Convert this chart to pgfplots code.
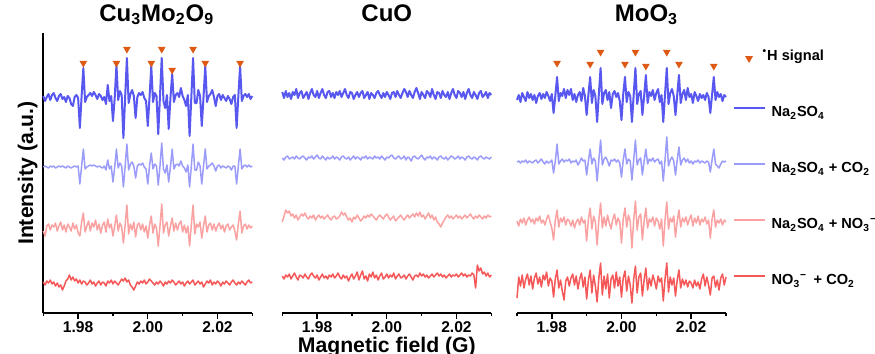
\documentclass[border=0pt]{standalone}
\usepackage{fontspec}
\setmainfont{Liberation Sans}
\usepackage{pgfplots}
\usepackage{pgfplotstable}
\pgfplotsset{compat=1.18}
\definecolor{cA}{RGB}{88,88,240}
\definecolor{cB}{RGB}{155,155,250}
\definecolor{cC}{RGB}{250,162,162}
\definecolor{cD}{RGB}{245,88,88}
\definecolor{tri}{RGB}{222,90,20}

% Cu3Mo2O9 panel: offsets from each trace's baseline
\pgfplotstableread{
x a b c d
1.9700 2 0 -3 1
1.9705 -3 1 -8 -2
1.9710 1 0 2 2
1.9715 4 -1 4 0
1.9720 -2 1 -2 3
1.9725 3 0 3 -1
1.9730 5 1 1 1
1.9735 0 -1 5 -3
1.9740 -3 0 -3 0
1.9745 2 1 2 -4
1.9750 4 0 6 -2
1.9755 -1 1 -2 -7
1.9760 1 0 3 -3
1.9765 -4 -1 -4 2
1.9770 2 1 4 4
1.9775 0 0 1 8
1.9780 -6 -1 -3 3
1.9785 -8 0 5 6
1.9790 1 1 -1 2
1.9795 3 0 3 4
1.9800 0 1 -5 0
1.9805 -30 -17 -8 3
1.9810 2 1 6 -1
1.9815 30 18 15 2
1.9820 -4 -2 -4 1
1.9825 1 0 2 -2
1.9830 3 1 7 0
1.9835 5 2 -3 3
1.9840 2 1 5 -1
1.9845 6 2 1 1
1.9850 3 1 8 -3
1.9855 -1 0 -2 0
1.9860 4 1 4 2
1.9865 2 0 -5 -2
1.9870 -2 -1 3 1
1.9875 1 1 6 0
1.9880 -6 -3 -4 -3
1.9885 13 7 9 2
1.9890 -3 -2 0 0
1.9895 2 1 4 3
1.9900 -23 -15 -8 -1
1.9905 0 0 2 2
1.9910 33 18 13 0
1.9915 -2 -1 -3 -2
1.9920 7 4 5 1
1.9925 3 1 1 4
1.9930 -40 -20 -15 2
1.9935 1 1 3 5
1.9940 40 23 23 1
1.9945 -5 -3 -6 3
1.9950 4 3 4 -2
1.9955 8 5 -2 -4
1.9960 2 1 6 -7
1.9965 -20 -11 -9 -3
1.9970 1 1 3 1
1.9975 5 3 5 -1
1.9980 3 2 -2 2
1.9985 6 4 4 0
1.9990 0 0 -4 3
1.9995 -3 -2 2 -1
2.0000 -28 -17 -10 1
2.0005 1 1 3 4
2.0010 32 14 12 2
2.0015 -4 -2 -5 0
2.0020 5 3 4 -2
2.0025 2 1 0 1
2.0030 -36 -18 -18 -1
2.0035 2 1 2 2
2.0040 40 24 24 0
2.0045 -3 -2 -5 -3
2.0050 -10 -6 3 1
2.0055 3 2 6 -1
2.0060 -31 -15 -8 2
2.0065 0 0 2 0
2.0070 24 18 10 3
2.0075 -4 -2 -3 1
2.0080 3 2 5 -2
2.0085 5 3 -2 0
2.0090 1 1 4 2
2.0095 10 6 7 -1
2.0100 2 1 -4 1
2.0105 -2 -1 3 -3
2.0110 -8 -5 -5 0
2.0115 3 2 2 2
2.0120 -38 -20 -18 -1
2.0125 1 1 3 1
2.0130 40 23 23 3
2.0135 -5 -3 -6 -2
2.0140 -5 -3 4 0
2.0145 8 5 1 2
2.0150 2 1 6 -1
2.0155 -28 -17 -10 1
2.0160 1 1 2 -4
2.0165 32 18 12 -1
2.0170 -4 -2 -4 2
2.0175 2 1 3 0
2.0180 4 2 5 3
2.0185 8 4 -2 -2
2.0190 1 1 4 1
2.0195 -8 -4 -3 -1
2.0200 2 1 2 2
2.0205 4 2 5 0
2.0210 -2 -1 -1 -3
2.0215 3 1 3 1
2.0220 0 0 -4 -1
2.0225 -3 -1 2 2
2.0230 2 1 4 0
2.0235 -1 0 -2 -2
2.0240 -6 -3 1 1
2.0245 1 1 3 3
2.0250 3 1 -3 0
2.0255 -30 -17 -12 -2
2.0260 2 1 4 1
2.0265 32 18 17 -1
2.0270 -3 -2 -5 2
2.0275 2 1 2 0
2.0280 4 2 4 -2
2.0285 1 0 -1 1
2.0290 4 2 3 3
2.0295 -1 0 0 0
2.0300 2 1 2 1
}\pone

% CuO panel
\pgfplotstableread{
x a b c d
1.9700 3 0 -4 1
1.9705 -3 -2 2 -2
1.9710 4 1 8 2
1.9715 -2 2 5 0
1.9720 2 -1 7 3
1.9725 -4 0 2 -2
1.9730 3 1 4 1
1.9735 0 -1 0 4
1.9740 6 2 3 0
1.9745 -3 0 -2 -3
1.9750 2 -1 1 2
1.9755 4 1 4 1
1.9760 -3 2 2 -1
1.9765 0 0 5 3
1.9770 3 -2 1 0
1.9775 -4 1 -1 -2
1.9780 2 0 2 2
1.9785 6 2 0 4
1.9790 0 -1 3 1
1.9795 -2 1 -2 -1
1.9800 4 3 1 2
1.9805 -3 0 3 -3
1.9810 2 -1 0 0
1.9815 6 2 2 3
1.9820 0 0 -1 -1
1.9825 -3 -2 1 1
1.9830 3 1 3 -2
1.9835 4 -1 0 2
1.9840 -2 0 -2 0
1.9845 2 2 1 3
1.9850 -3 -1 2 -1
1.9855 3 1 -1 1
1.9860 0 0 0 4
1.9865 4 -2 2 0
1.9870 -2 1 6 -2
1.9875 2 2 3 2
1.9880 6 0 5 -1
1.9885 0 -1 1 1
1.9890 -3 1 -2 -4
1.9895 3 -2 0 0
1.9900 2 0 -4 3
1.9905 -4 2 1 -2
1.9910 0 -1 -1 1
1.9915 3 1 3 5
1.9920 -2 0 0 -3
1.9925 2 -2 -3 2
1.9930 4 1 -1 6
1.9935 -3 0 2 -2
1.9940 0 2 0 1
1.9945 3 -1 3 -4
1.9950 -4 1 1 3
1.9955 2 0 4 0
1.9960 0 -1 2 5
1.9965 -3 2 0 -1
1.9970 2 0 -2 2
1.9975 4 1 1 -3
1.9980 0 -1 3 1
1.9985 -3 2 1 4
1.9990 2 0 -1 -2
1.9995 -2 -2 2 0
2.0000 3 1 4 3
2.0005 0 0 1 -1
2.0010 -4 2 -2 2
2.0015 2 3 0 0
2.0020 3 0 2 4
2.0025 -2 -1 -3 -2
2.0030 4 1 -1 1
2.0035 0 2 1 3
2.0040 -3 -1 3 -1
2.0045 2 0 0 0
2.0050 6 2 -2 2
2.0055 3 -2 1 -2
2.0060 -2 1 3 1
2.0065 4 0 0 3
2.0070 0 -3 2 0
2.0075 -3 1 4 -3
2.0080 3 2 1 1
2.0085 7 0 5 2
2.0090 2 -1 2 0
2.0095 -4 1 6 4
2.0100 3 3 1 1
2.0105 0 0 3 3
2.0110 -3 -2 -1 0
2.0115 4 1 2 2
2.0120 2 0 5 -1
2.0125 -2 2 0 1
2.0130 6 -1 3 3
2.0135 0 1 -2 0
2.0140 -4 0 1 2
2.0145 3 -2 -4 4
2.0150 2 1 -6 1
2.0155 -3 2 -9 3
2.0160 4 0 -5 0
2.0165 0 -1 -2 2
2.0170 -2 1 1 -1
2.0175 3 -2 3 1
2.0180 -4 0 0 3
2.0185 2 2 2 0
2.0190 6 1 -1 2
2.0195 0 -1 1 1
2.0200 -3 0 3 3
2.0205 4 2 0 0
2.0210 2 -1 2 2
2.0215 -2 1 -1 4
2.0220 3 0 1 1
2.0225 -4 -2 3 3
2.0230 2 1 0 0
2.0235 6 2 2 2
2.0240 0 0 4 1
2.0245 -3 -1 1 4
2.0250 3 1 -1 2
2.0255 0 0 2 -11
2.0260 -4 -2 0 12
2.0265 2 1 3 6
2.0270 4 2 1 9
2.0275 -2 0 -1 3
2.0280 0 -1 2 5
2.0285 3 1 0 1
2.0290 -3 0 3 4
2.0295 2 -1 1 0
2.0300 0 1 2 2
}\ptwo

% MoO3 panel
\pgfplotstableread{
x a b c d
1.9700 -2 0 2 -15
1.9705 3 1 -3 6
1.9710 -4 -1 4 -3
1.9715 5 1 0 8
1.9720 1 0 5 -5
1.9725 -3 2 -2 4
1.9730 6 -1 3 9
1.9735 0 1 6 -2
1.9740 4 0 1 7
1.9745 -2 -1 4 -6
1.9750 3 1 -1 5
1.9755 -5 2 5 10
1.9760 2 -1 2 -1
1.9765 5 1 7 6
1.9770 -1 3 0 -4
1.9775 4 0 3 8
1.9780 0 -2 -2 3
1.9785 6 1 4 11
1.9790 2 -1 8 -3
1.9795 -3 0 1 5
1.9800 4 2 -5 2
1.9805 -15 -11 -17 -14
1.9810 2 1 3 4
1.9815 21 18 13 13
1.9820 -3 -2 -4 -5
1.9825 5 1 5 3
1.9830 2 3 1 -8
1.9835 9 0 6 -17
1.9840 0 2 -2 2
1.9845 8 1 4 6
1.9850 3 3 2 -3
1.9855 9 -1 -3 5
1.9860 -2 1 3 9
1.9865 4 0 -5 -2
1.9870 -4 2 1 7
1.9875 3 -3 4 -6
1.9880 6 0 -2 4
1.9885 -3 4 6 10
1.9890 10 1 0 -4
1.9895 2 2 3 6
1.9900 -17 -13 -18 -16
1.9905 3 1 4 3
1.9910 21 13 15 13
1.9915 -5 -2 -6 -10
1.9920 8 4 7 8
1.9925 2 1 1 -3
1.9930 -24 -19 -22 -19
1.9935 4 2 3 5
1.9940 30 22 20 20
1.9945 -6 -3 -5 -12
1.9950 5 3 6 7
1.9955 8 5 -3 -6
1.9960 -2 1 8 9
1.9965 6 -4 0 -15
1.9970 -10 2 -6 4
1.9975 4 1 4 8
1.9980 7 3 9 -5
1.9985 1 0 -2 11
1.9990 5 2 5 -3
1.9995 -3 -1 1 6
2.0000 -22 -15 -20 -14
2.0005 4 2 4 5
2.0010 21 13 15 12
2.0015 -4 -2 -4 -8
2.0020 6 3 8 7
2.0025 2 1 2 -2
2.0030 -24 -18 -25 -20
2.0035 3 2 3 4
2.0040 30 22 22 17
2.0045 -6 -3 -7 -10
2.0050 4 2 6 6
2.0055 7 4 9 10
2.0060 -17 -13 -17 -13
2.0065 2 1 2 3
2.0070 23 13 15 15
2.0075 -5 -2 -5 -7
2.0080 6 3 4 5
2.0085 2 1 1 -3
2.0090 8 4 6 8
2.0095 -2 0 -3 2
2.0100 5 2 5 -6
2.0105 9 3 2 7
2.0110 -4 -2 -6 1
2.0115 3 1 4 5
2.0120 -24 -19 -23 -18
2.0125 4 2 3 4
2.0130 30 25 21 20
2.0135 -6 -4 -6 -9
2.0140 5 2 5 6
2.0145 9 5 1 -2
2.0150 2 1 7 5
2.0155 -17 -13 -14 -13
2.0160 3 2 2 3
2.0165 23 15 13 13
2.0170 -5 -3 -4 -5
2.0175 4 2 5 4
2.0180 8 4 1 -2
2.0185 -2 0 6 3
2.0190 10 3 -2 -4
2.0195 1 -1 4 2
2.0200 4 1 8 0
2.0205 -5 -2 -3 -5
2.0210 6 1 5 3
2.0215 2 0 0 -3
2.0220 -3 2 7 1
2.0225 4 -1 -2 -6
2.0230 0 1 4 4
2.0235 3 0 1 9
2.0240 -2 -1 6 -3
2.0245 5 1 -1 6
2.0250 1 0 3 -2
2.0255 -15 -10 -15 -12
2.0260 3 2 4 5
2.0265 21 13 13 7
2.0270 -2 -2 -4 -4
2.0275 6 -4 3 3
2.0280 1 -6 0 -7
2.0285 4 -2 4 5
2.0290 -3 1 -2 9
2.0295 3 0 3 -2
2.0300 1 1 1 6
}\pthree

% *H signal positions
\pgfplotstableread{
x y
1.9815 250
1.9910 250
1.9940 264
2.0010 250
2.0040 264
2.0070 243
2.0130 264
2.0165 250
2.0265 250
}\trione
\pgfplotstableread{
x y
1.9815 250
1.9910 249
1.9940 261
2.0010 249
2.0040 261
2.0070 247
2.0130 261
2.0165 249
2.0265 247
}\trithree

\pgfplotsset{
  panel/.style={
    scale only axis, width=104.5pt, height=140pt,
    anchor=south west,
    xmin=1.97, xmax=2.03, ymin=0, ymax=280,
    axis x line*=bottom,
    xtick={1.98,2.00,2.02}, xticklabels={1.98,2.00,2.02},
    minor xtick={1.97,1.99,2.01,2.03},
    xticklabel style={font=\fontsize{7.8}{9}\selectfont\bfseries, inner sep=1pt},
    tick align=outside, major tick length=3pt, minor tick length=1.6pt,
    tick style={black, line width=0.7pt},
    axis line style={line width=0.8pt},
    title style={at={(axis description cs:0.5,1)}, anchor=base, font=\fontsize{12}{14}\selectfont\bfseries},
    clip=false,
  },
  tr/.style={line join=round, line width=0.75pt},
  trimark/.style={only marks, mark=triangle*, mark size=1.85pt, color=tri, mark options={rotate=180, fill=tri, draw=tri}},
  trilegend/.style={legend image code/.code={\draw[##1] plot coordinates {(7.75pt,-0.7pt)};}},
  linelegend/.style={legend image code/.code={\draw[##1, line width=1.1pt] (0pt,2.7pt) -- (15.5pt,2.7pt);}},
}

\begin{document}
\begin{tikzpicture}
% Panel 1
\begin{axis}[panel, at={(21.65pt,-156.5pt)},
  axis y line*=left, ytick=\empty,
  title={Cu\textsubscript{3}Mo\textsubscript{2}O\textsubscript{9}},
  title style={xshift=4.5pt},
  ylabel={Intensity (a.u.)},
  ylabel style={at={(axis description cs:-0.049,0.5)}, anchor=base, font=\fontsize{10.6}{12}\selectfont\bfseries},
]
\addplot[tr, color=cA, line width=1pt] table[x=x, y expr=\thisrow{a}+215] {\pone};
\addplot[tr, color=cB] table[x=x, y expr=\thisrow{b}+146] {\pone};
\addplot[tr, color=cC] table[x=x, y expr=\thisrow{c}+85] {\pone};
\addplot[tr, color=cD] table[x=x, y expr=\thisrow{d}+30] {\pone};
\addplot[trimark] table[x=x, y=y] {\trione};
\end{axis}
% Panel 2
\begin{axis}[panel, at={(141.15pt,-156.5pt)},
  hide y axis,
  title={CuO},
  xlabel={Magnetic field (G)},
  xlabel style={at={(axis description cs:0.5,0)}, anchor=base, yshift=-19.5pt, inner sep=0pt, font=\fontsize{10.6}{12}\selectfont\bfseries},
]
\addplot[tr, color=cA, line width=1pt] table[x=x, y expr=\thisrow{a}+218] {\ptwo};
\addplot[tr, color=cB] table[x=x, y expr=\thisrow{b}+155] {\ptwo};
\addplot[tr, color=cC] table[x=x, y expr=\thisrow{c}+95] {\ptwo};
\addplot[tr, color=cD] table[x=x, y expr=\thisrow{d}+36] {\ptwo};
\end{axis}
% Panel 3
\begin{axis}[panel, at={(258.5pt,-156.5pt)},
  hide y axis,
  title={MoO\textsubscript{3}},
  title style={xshift=12.5pt},
  legend cell align=left,
  legend style={at={(rel axis cs:1.029,0.942)}, anchor=north west, draw=none, fill=none,
    inner sep=0pt, row sep=20.6pt, column sep=3pt,
    font=\fontsize{7.3}{9}\selectfont\bfseries,
    nodes={inner sep=0pt, text height=5.6pt, text depth=1.8pt}},
]
\addplot[trimark, trilegend] table[x=x, y=y] {\trithree};
\addlegendentry{\hspace*{-4.5pt}\textsuperscript{•}H signal}
\addplot[tr, color=cA, line width=1pt, linelegend] table[x=x, y expr=\thisrow{a}+215] {\pthree};
\addlegendentry{Na\textsubscript{2}SO\textsubscript{4}}
\addplot[tr, color=cB, linelegend] table[x=x, y expr=\thisrow{b}+151] {\pthree};
\addlegendentry{Na\textsubscript{2}SO\textsubscript{4} + CO\textsubscript{2}}
\addplot[tr, color=cC, linelegend] table[x=x, y expr=\thisrow{c}+90] {\pthree};
\addlegendentry{Na\textsubscript{2}SO\textsubscript{4} + NO\textsubscript{3}\textsuperscript{−}}
\addplot[tr, color=cD, linelegend] table[x=x, y expr=\thisrow{d}+30] {\pthree};
\addlegendentry{NO\textsubscript{3}\textsuperscript{−}\, + CO\textsubscript{2}}
\end{axis}
\pgfresetboundingbox
\path[use as bounding box] (0pt,0pt) rectangle (437.5pt,-177pt);
\end{tikzpicture}
\end{document}
